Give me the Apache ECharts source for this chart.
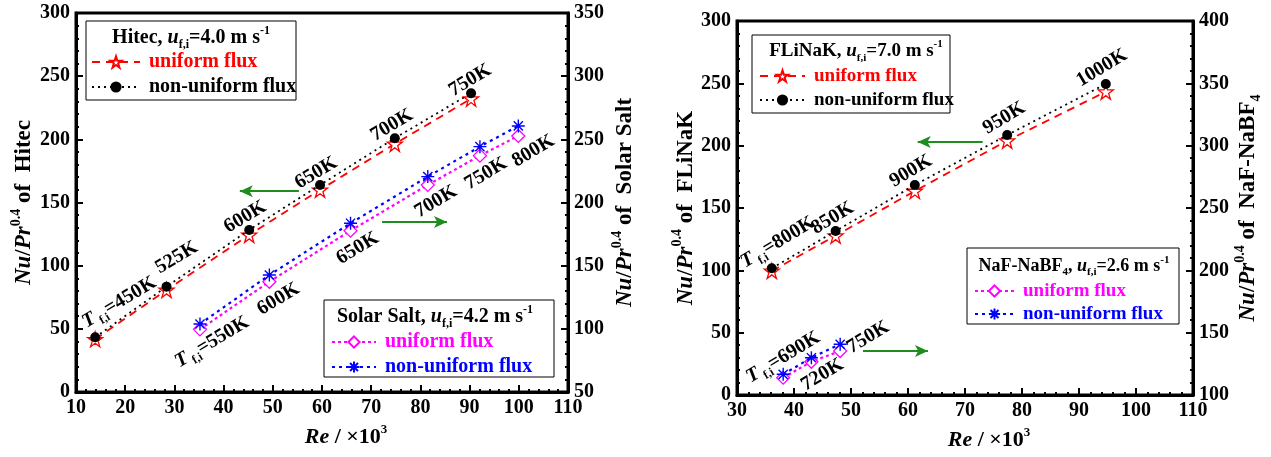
<!DOCTYPE html>
<html>
<head>
<meta charset="utf-8">
<script src="https://cdn.jsdelivr.net/npm/echarts@6/dist/echarts.min.js"></script>
<style>
html,body{margin:0;padding:0;background:#fff;}
#c{width:1271px;height:457px;}
</style>
</head>
<body>
<div id="c"></div>
<script>
// ---- data: Re (×10^3) and Nu/Pr^0.4 at each inlet temperature ----
const hitecRe          = [13.9, 28.4, 45.2, 59.6, 74.8, 90.3];
const hitecUniform     = [41.7, 80.8, 124.3, 160.0, 196.4, 232.2];
const hitecNonUniform  = [43.3, 83.4, 128.3, 163.9, 200.9, 236.5];
const hitecTemps       = ['450K', '525K', '600K', '650K', '700K', '750K'];

const solarRe          = [35.2, 49.3, 65.8, 81.5, 92.1, 99.9];
const solarUniform     = [99.6, 137.3, 177.7, 213.9, 237.1, 252.7];
const solarNonUniform  = [103.8, 142.6, 183.6, 220.5, 244.2, 260.6];
const solarTemps       = ['550K', '600K', '650K', '700K', '750K', '800K'];

const flinakRe         = [36.1, 47.3, 61.2, 77.4, 94.7];
const flinakUniform    = [99.5, 127.8, 163.6, 204.0, 243.3];
const flinakNonUniform = [101.6, 131.5, 168.4, 208.5, 249.5];
const flinakTemps      = ['800K', '850K', '900K', '950K', '1000K'];

const nafRe            = [38.1, 43.05, 48.1];
const nafUniform       = [113.9, 126.7, 135.3];
const nafNonUniform    = [116.6, 129.9, 140.7];
const nafTemps         = ['690K', '720K', '750K'];

// axis ranges
const leftXRange   = [10, 110, 10];
const hitecYRange  = [0, 300, 50];
const solarYRange  = [50, 350, 50];
const rightXRange  = [30, 110, 10];
const flinakYRange = [0, 300, 50];
const nafYRange    = [100, 400, 50];

// ---- styling ----
const FONT = '"Liberation Serif","Times New Roman",serif';
const RED = '#ff0000', MAG = '#ff00ff', BLUE = '#0000ff', GREEN = '#1e8c1e';
const STAR = 'path://M50,2 L61.2,36.5 L97.6,36.5 L68.2,57.9 L79.4,92.5 L50,71.1 L20.6,92.5 L31.8,57.9 L2.4,36.5 L38.8,36.5 Z';
const ASTER = 'path://M0,-10 L0,10 M-10,0 L10,0 M-7.07,-7.07 L7.07,7.07 M-7.07,7.07 L7.07,-7.07';

// rich-text token sets (ECharts components use "color", graphic text uses "fill")
function richSet(size, color, key) {
  const small = Math.round(size * 0.6);
  const base = { fontFamily: FONT, fontWeight: 'bold' };
  base[key] = color;
  return {
    b:   Object.assign({}, base, { fontSize: size, lineHeight: Math.round(size * 1.3) }),
    i:   Object.assign({}, base, { fontSize: size, fontStyle: 'italic', lineHeight: Math.round(size * 1.3) }),
    sub: Object.assign({}, base, { fontSize: small, lineHeight: small, verticalAlign: 'bottom' }),
    sup: Object.assign({}, base, { fontSize: small, lineHeight: small, verticalAlign: 'top' })
  };
}

function valAxis(range, extra) {
  return Object.assign({
    type: 'value', min: range[0], max: range[1], interval: range[2],
    splitLine: { show: false },
    axisLine: { show: true, onZero: false, lineStyle: { color: '#000', width: 3 } },
    axisTick: { show: true, inside: true, length: 7, lineStyle: { color: '#000', width: 2 } },
    minorTick: { show: true, splitNumber: 5, length: 3, lineStyle: { color: '#000', width: 2 } },
    axisLabel: { color: '#000', fontFamily: FONT, fontWeight: 'bold', fontSize: 20, margin: 6 }
  }, extra);
}

function yName(text, gap) {
  return {
    name: text, nameLocation: 'middle', nameRotate: 90, nameGap: gap,
    nameTextStyle: { rich: richSet(23, '#000', 'color') }
  };
}

function xName(gap) {
  return {
    name: '{i|Re}{b| / ×10}{sup|3}', nameLocation: 'middle', nameGap: gap,
    nameTextStyle: { padding: [0, 0, 0, 48], rich: richSet(22, '#000', 'color') }
  };
}

function lineSeries(name, xs, ys, xi, yi, o) {
  return {
    type: 'line', name: name, xAxisIndex: xi, yAxisIndex: yi,
    data: xs.map((x, k) => [x, ys[k]]),
    symbol: o.symbol, symbolSize: o.size, showAllSymbol: true,
    lineStyle: { color: o.color, width: o.lw || 1.8, type: o.dash },
    itemStyle: o.item,
    emphasis: { disabled: true },
    z: o.z || 2,
    markLine: o.markLine
  };
}

function arrows(pairs) {
  return {
    silent: true, symbol: ['none', 'arrow'], symbolSize: [9, 13],
    lineStyle: { color: GREEN, width: 2, type: 'solid' },
    label: { show: false }, emphasis: { disabled: true },
    data: pairs.map(p => [{ coord: p[0] }, { coord: p[1] }])
  };
}

const starItem = { color: '#fff', borderColor: RED, borderWidth: 1.3 };
const dotItem = { color: '#000', borderColor: '#000', borderWidth: 0 };
const diamondItem = { color: '#fff', borderColor: MAG, borderWidth: 1.3 };
const asterItem = { color: BLUE, borderColor: BLUE, borderWidth: 1.4 };

const series = [
  lineSeries('Hitec uniform', hitecRe, hitecUniform, 0, 0,
    { symbol: STAR, size: 15, color: RED, dash: [8, 6], item: starItem,
      markLine: arrows([[[55.3, 159], [43.3, 159]], [[72.2, 134.6], [85.4, 134.6]]]) }),
  lineSeries('Hitec non-uniform', hitecRe, hitecNonUniform, 0, 0,
    { symbol: 'circle', size: 10, color: '#000', dash: [2, 4], item: dotItem, z: 3 }),
  lineSeries('Solar uniform', solarRe, solarUniform, 0, 1,
    { symbol: 'diamond', size: 13, color: MAG, dash: [3, 3], lw: 2.2, item: diamondItem }),
  lineSeries('Solar non-uniform', solarRe, solarNonUniform, 0, 1,
    { symbol: ASTER, size: 13, color: BLUE, dash: [3, 4], lw: 2.2, item: asterItem, z: 3 }),
  lineSeries('FLiNaK uniform', flinakRe, flinakUniform, 1, 2,
    { symbol: STAR, size: 15, color: RED, dash: [8, 6], item: starItem,
      markLine: arrows([[[73.1, 203], [61.7, 203]], [[52.1, 35.3], [63.5, 35.3]]]) }),
  lineSeries('FLiNaK non-uniform', flinakRe, flinakNonUniform, 1, 2,
    { symbol: 'circle', size: 10, color: '#000', dash: [2, 4], item: dotItem, z: 3 }),
  lineSeries('NaF uniform', nafRe, nafUniform, 1, 3,
    { symbol: 'diamond', size: 13, color: MAG, dash: [3, 3], lw: 2.2, item: diamondItem }),
  lineSeries('NaF non-uniform', nafRe, nafNonUniform, 1, 3,
    { symbol: ASTER, size: 13, color: BLUE, dash: [3, 4], lw: 2.2, item: asterItem, z: 3 })
];

function legendBlock(names, colors, left, top, itemWidth, fontSize, gap) {
  return {
    orient: 'vertical', left: left, top: top, padding: 0,
    itemGap: gap, itemWidth: itemWidth, itemHeight: 14,
    selectedMode: false,
    formatter: n => (n.indexOf('non-uniform') >= 0 ? 'non-uniform flux' : 'uniform flux'),
    textStyle: { fontFamily: FONT, fontWeight: 'bold', fontSize: fontSize, lineHeight: 20, padding: [0, 0, 0, 4] },
    data: names.map((n, k) => ({ name: n, textStyle: { color: colors[k] } }))
  };
}

const option = {
  animation: false,
  backgroundColor: '#fff',
  grid: [
    { left: 76, top: 13, width: 492, height: 379, show: true, borderColor: '#000', borderWidth: 3, backgroundColor: 'transparent' },
    { left: 737, top: 21, width: 456, height: 374, show: true, borderColor: '#000', borderWidth: 3, backgroundColor: 'transparent' }
  ],
  xAxis: [
    valAxis(leftXRange, Object.assign({ gridIndex: 0, position: 'bottom' }, xName(31))),
    valAxis(rightXRange, Object.assign({ gridIndex: 1, position: 'bottom' }, xName(31)))
  ],
  yAxis: [
    valAxis(hitecYRange, Object.assign({ gridIndex: 0, position: 'left' },
      yName('{i|Nu}{b|/}{i|Pr}{sup|0.4}{b| of  Hitec}', 37))),
    valAxis(solarYRange, Object.assign({ gridIndex: 0, position: 'right' },
      yName('{i|Nu}{b|/}{i|Pr}{sup|0.4}{b| of  Solar Salt}', 42))),
    valAxis(flinakYRange, Object.assign({ gridIndex: 1, position: 'left' },
      yName('{i|Nu}{b|/}{i|Pr}{sup|0.4}{b| of  FLiNaK}', 31))),
    valAxis(nafYRange, Object.assign({ gridIndex: 1, position: 'right' },
      yName('{i|Nu}{b|/}{i|Pr}{sup|0.4}{b| of  NaF-NaBF}{sub|4}', 40)))
  ],
  legend: [
    legendBlock(['Hitec uniform', 'Hitec non-uniform'], [RED, '#000'], 91, 52, 48, 20, 5),
    legendBlock(['Solar uniform', 'Solar non-uniform'], [MAG, BLUE], 331, 332, 44, 20, 5),
    legendBlock(['FLiNaK uniform', 'FLiNaK non-uniform'], [RED, '#000'], 759, 66, 45, 19, 4),
    legendBlock(['NaF uniform', 'NaF non-uniform'], [MAG, BLUE], 974, 281, 39, 19, 3)
  ],
  series: series
};

const chart = echarts.init(document.getElementById('c'), null, { renderer: 'canvas' });
chart.setOption(option);

// ---- legend frames with their titles ----
function frame(x, y, w, h) {
  return { type: 'rect', shape: { x: x, y: y, width: w, height: h },
           style: { fill: 'transparent', stroke: '#000', lineWidth: 1 }, z: 1, silent: true };
}
function centeredText(text, x, y, size, rotationDeg) {
  return { type: 'text', x: x, y: y, rotation: (rotationDeg || 0) * Math.PI / 180, z: 20, silent: true,
           style: { text: text, align: 'center', verticalAlign: 'middle', rich: richSet(size, '#000', 'fill') } };
}

const graphics = [
  frame(86, 21, 210, 79),
  centeredText('{b|Hitec, }{i|u}{sub|f,i}{b|=4.0 m s}{sup|-1}', 191, 38, 20),
  frame(324, 300, 230, 77),
  centeredText('{b|Solar Salt, }{i|u}{sub|f,i}{b|=4.2 m s}{sup|-1}', 435, 317, 20),
  frame(752, 35, 198, 78),
  centeredText('{b|FLiNaK, }{i|u}{sub|f,i}{b|=7.0 m s}{sup|-1}', 856, 51, 19),
  frame(967, 248, 212, 76),
  centeredText('{b|NaF-NaBF}{sub|4}{b|, }{i|u}{sub|f,i}{b|=2.6 m s}{sup|-1}', 1074, 266, 18)
];

// ---- inlet-temperature labels placed next to their points ----
const ANGLE = 31;
function tempLabels(seriesIndex, xs, ys, temps, offsets) {
  return temps.map((t, k) => {
    const p = chart.convertToPixel({ seriesIndex: seriesIndex }, [xs[k], ys[k]]);
    const txt = k === 0 ? '{i|T}{sub| f,i}{b|=' + t + '}' : '{b|' + t + '}';
    return centeredText(txt, p[0] + offsets[k][0], p[1] + offsets[k][1], 20, ANGLE);
  });
}
const hitecLabelOffsets  = [[24, -35], [10, -29], [-4, -13], [-4, -12], [-3, -13], [-1, -13]];
const solarLabelOffsets  = [[12, 18], [9, 24], [7, 25], [8, 25], [6, 27], [15, 25]];
const flinakLabelOffsets = [[6, -26], [-3, -13], [-4, -14], [-3, -17], [-4, -16]];
const nafLabelOffsets    = [[0, -17], [11, 17], [28, -7]];

graphics.push.apply(graphics, tempLabels(1, hitecRe, hitecNonUniform, hitecTemps, hitecLabelOffsets));
graphics.push.apply(graphics, tempLabels(3, solarRe, solarNonUniform, solarTemps, solarLabelOffsets));
graphics.push.apply(graphics, tempLabels(5, flinakRe, flinakNonUniform, flinakTemps, flinakLabelOffsets));
graphics.push.apply(graphics, tempLabels(7, nafRe, nafNonUniform, nafTemps, nafLabelOffsets));

chart.setOption({ graphic: graphics });
</script>
</body>
</html>
